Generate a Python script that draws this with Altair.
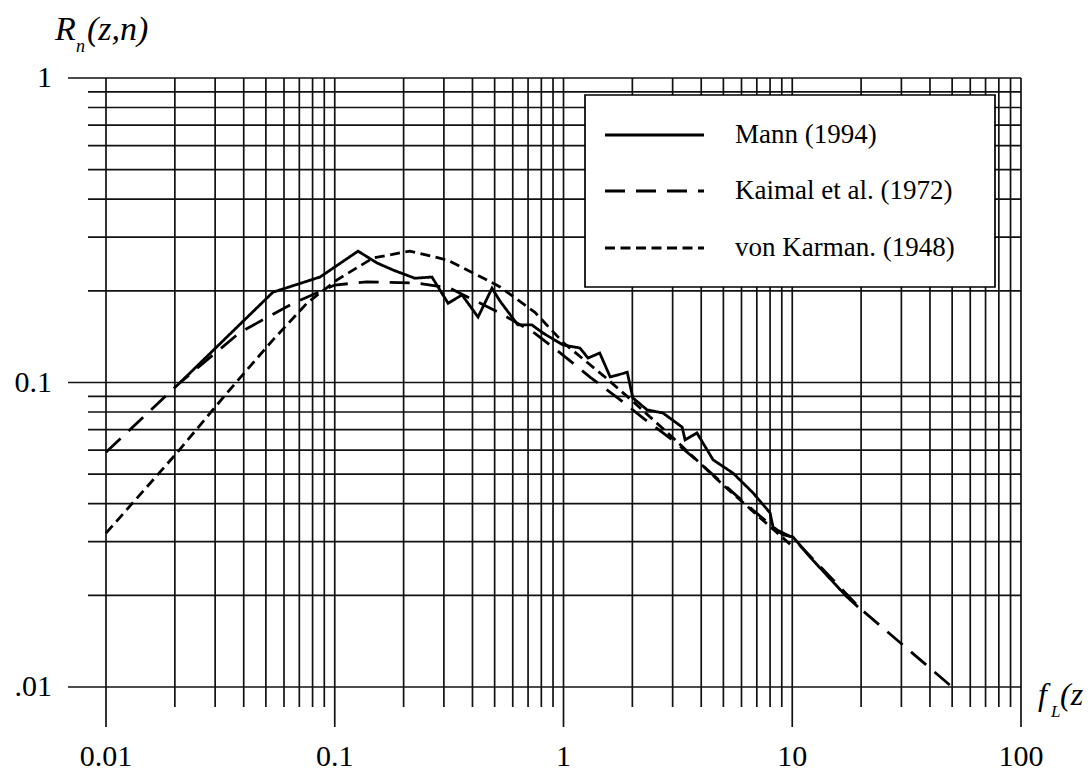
import altair as alt
import pandas as pd

W, H = 915, 609

series_names = ["Mann (1994)", "Kaimal et al. (1972)", "von Karman. (1948)"]

mann_x = [0.0211, 0.0537, 0.0862, 0.1264, 0.153, 0.180, 0.224, 0.266, 0.313, 0.36, 0.423, 0.487,
          0.528, 0.632, 0.728, 0.813, 0.995, 1.18, 1.28, 1.44, 1.60, 1.90, 2.01, 2.32, 2.72, 3.30,
          3.40, 3.83, 4.51, 5.51, 6.74, 8.0, 8.24, 9.12, 10.08, 11.96, 17.3, 19.4]
mann_y = [0.100, 0.198, 0.222, 0.270, 0.247, 0.234, 0.220, 0.222, 0.182, 0.194, 0.164, 0.204,
          0.185, 0.1545, 0.1545, 0.1454, 0.1328, 0.1298, 0.1203, 0.125, 0.1043, 0.108, 0.089,
          0.0813, 0.0794, 0.0714, 0.0648, 0.0683, 0.0557, 0.0504, 0.0434, 0.0373, 0.0335, 0.0316,
          0.0311, 0.0267, 0.0198, 0.0183]

kaimal_x = [0.01, 0.0211, 0.0385, 0.0657, 0.1, 0.138, 0.229, 0.319, 0.528, 0.75, 0.995, 1.31,
            1.73, 2.23, 3.07, 3.95, 4.93, 6.73, 8.57, 10, 20, 50]
kaimal_y = [0.059, 0.100, 0.146, 0.182, 0.209, 0.214, 0.212, 0.204, 0.169, 0.145, 0.123, 0.104,
            0.0889, 0.0764, 0.0638, 0.0544, 0.0468, 0.0381, 0.0328, 0.031, 0.018, 0.0100]

karman_x = [0.01, 0.0204, 0.0338, 0.0537, 0.0757, 0.102, 0.147, 0.213, 0.310, 0.445, 0.528,
            0.75, 1.0, 1.5, 2.0, 3.0, 5.0, 10]
karman_y = [0.032, 0.0587, 0.0924, 0.138, 0.1824, 0.217, 0.2564, 0.270, 0.2526, 0.2205, 0.206,
            0.17, 0.135, 0.105, 0.087, 0.066, 0.046, 0.029]

x_major = [0.01, 0.1, 1, 10, 100]
x_labels = ["0.01", "0.1", "1", "10", "100"]
x_minor = [0.02, 0.03, 0.04, 0.05, 0.06, 0.07, 0.08, 0.09,
           0.2, 0.3, 0.4, 0.5, 0.6, 0.7, 0.8, 0.9,
           2, 3, 4, 5, 6, 7, 8, 9,
           20, 30, 40, 50, 60, 70, 80, 90]
y_major = [0.01, 0.1, 1]
y_labels = [".01", "0.1", "1"]
y_minor = [0.02, 0.03, 0.04, 0.05, 0.06, 0.07, 0.08, 0.09,
           0.2, 0.3, 0.4, 0.5, 0.6, 0.7, 0.8, 0.9]

dashes = [[1, 0], [20, 11], [10, 5.5]]

curves = pd.concat([
    pd.DataFrame({"x": mann_x, "y": mann_y, "series": series_names[0]}),
    pd.DataFrame({"x": kaimal_x, "y": kaimal_y, "series": series_names[1]}),
    pd.DataFrame({"x": karman_x, "y": karman_y, "series": series_names[2]}),
])

xs = alt.Scale(type="log", domain=[0.01, 100], nice=False)
ys = alt.Scale(type="log", domain=[0.01, 1], nice=False)

GRID = "#111111"
FONT = "Liberation Serif"
TICK_FS = 30
dummy = pd.DataFrame({"a": [0]})


def vgrid(vals, ext):
    return alt.Chart(pd.DataFrame({"v": vals})).mark_rule(color=GRID, strokeWidth=1.7).encode(
        x=alt.X("v:Q", scale=xs, axis=None), y=alt.value(0), y2=alt.value(H + ext))


def hgrid(vals, ext):
    return alt.Chart(pd.DataFrame({"v": vals})).mark_rule(color=GRID, strokeWidth=1.7).encode(
        y=alt.Y("v:Q", scale=ys, axis=None), x=alt.value(-ext), x2=alt.value(W))


x_tick_text = alt.Chart(pd.DataFrame({"v": x_major, "lab": x_labels})).mark_text(
    align="center", baseline="alphabetic", font=FONT, fontSize=TICK_FS, color="black").encode(
    x=alt.X("v:Q", scale=xs, axis=None), y=alt.value(H + 79), text="lab:N")

y_tick_text = alt.Chart(pd.DataFrame({"v": y_major, "lab": y_labels})).mark_text(
    align="right", baseline="middle", font=FONT, fontSize=TICK_FS, color="black").encode(
    y=alt.Y("v:Q", scale=ys, axis=None), x=alt.value(-54), text="lab:N")

legend_box = alt.Chart(dummy).mark_rect(fill="white", stroke="black", strokeWidth=1.7).encode(
    x=alt.value(479), x2=alt.value(889), y=alt.value(17), y2=alt.value(209))

lines = alt.Chart(curves).mark_line(color="black", strokeWidth=2.8).encode(
    x=alt.X("x:Q", scale=xs, axis=None),
    y=alt.Y("y:Q", scale=ys, axis=None),
    strokeDash=alt.StrokeDash("series:N", scale=alt.Scale(domain=series_names, range=dashes),
                              legend=None),
)

row_y = [57, 113, 170]
legend_layers = []
for i, name in enumerate(series_names):
    legend_layers.append(
        alt.Chart(dummy).mark_rule(color="black", strokeWidth=2.8, strokeDash=dashes[i]).encode(
            x=alt.value(499), x2=alt.value(598), y=alt.value(row_y[i])))
    legend_layers.append(
        alt.Chart(dummy).mark_text(align="left", baseline="middle", font=FONT, fontSize=27,
                                   color="black").encode(
            x=alt.value(629), y=alt.value(row_y[i]), text=alt.value(name)))


def label(txt, x, y, size, italic=True):
    return alt.Chart(dummy).mark_text(align="left", baseline="alphabetic", font=FONT,
                                      fontSize=size, fontStyle="italic" if italic else "normal",
                                      color="black").encode(
        x=alt.value(x), y=alt.value(y), text=alt.value(txt))


titles = [
    label("R", -51, -38, 34),
    label("n", -30, -26, 18),
    label("(z,n)", -19, -38, 34),
    label("f", 932, 627, 32),
    label("L", 945, 639, 17),
    label("(z", 954, 627, 32),
]

chart = alt.layer(
    vgrid(x_minor, 20), vgrid(x_major, 40), hgrid(y_minor, 18), hgrid(y_major, 38),
    legend_box, lines, x_tick_text, y_tick_text, *legend_layers, *titles
).properties(
    width=W, height=H,
    autosize=alt.AutoSizeParams(type="none"),
    padding={"left": 106, "top": 78, "right": 71, "bottom": 91},
    background="white",
).configure_view(stroke=None)

chart.save("out.html", embed_options={"renderer": "svg", "actions": False})
